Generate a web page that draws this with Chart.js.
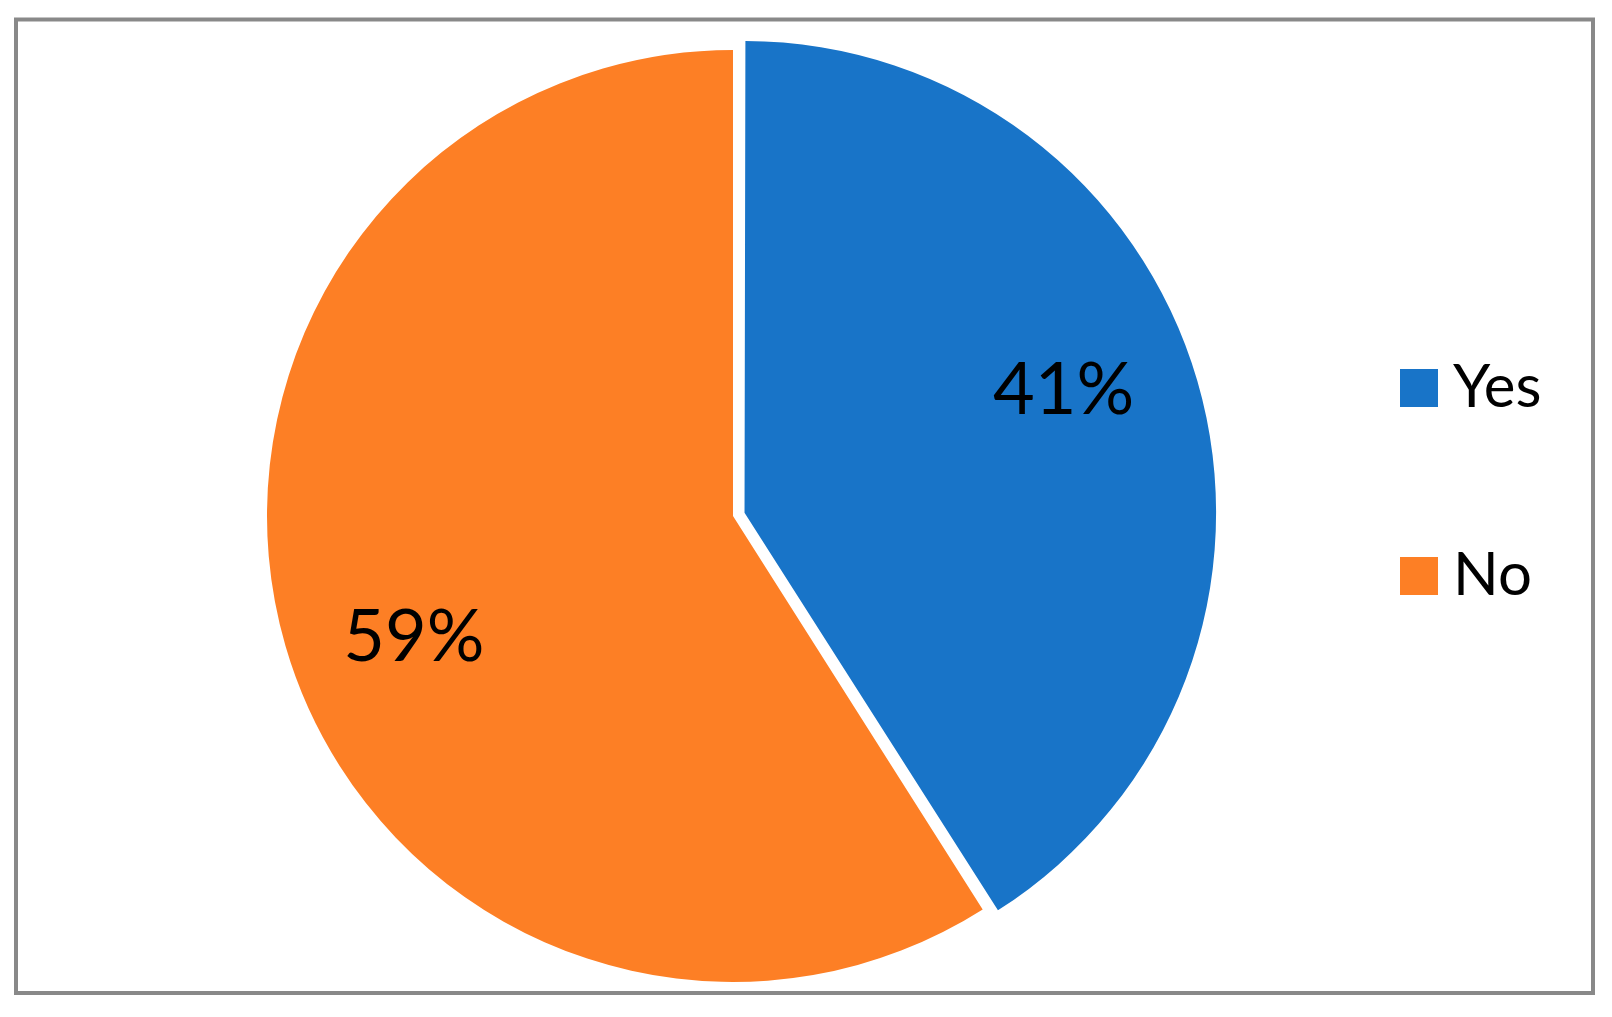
<!DOCTYPE html>
<html>
<head>
<meta charset="utf-8">
<title>Yes / No</title>
<script src="https://cdn.jsdelivr.net/npm/chart.js@4.4.1/dist/chart.umd.min.js"></script>
<style>
  html, body { margin: 0; padding: 0; background: #fff; }
  #wrap { position: relative; width: 1612px; height: 1017px; }
  #legend { position: absolute; left: 1400px; top: 354px; font-family: Lato, sans-serif; font-size: 60px; color: #000; }
  .item { display: flex; align-items: flex-start; height: 60px; line-height: 60px; margin-bottom: 128px; }
  .box { width: 38px; height: 38px; margin-top: 15px; margin-right: 15px; }
</style>
</head>
<body>
<div id="wrap">
  <canvas id="myPie"></canvas>
  <div id="legend"></div>
</div>
<script>
const labels = ['Yes', 'No'];
const values = [41, 59]; // percentages
const colors = ['#1874C8', '#FD7F25'];

// grey frame around the whole chart
const framePlugin = {
    id: 'frame',
    beforeDraw(chart) {
        const c = chart.ctx;
        c.save();
        c.strokeStyle = '#898989';
        c.lineWidth = 4;
        c.strokeRect(16, 19.5, 1577, 973.5);
        c.restore();
    }
};

// percentage labels inside the slices
const pctPlugin = {
    id: 'pctLabels',
    afterDatasetsDraw(chart) {
        const c = chart.ctx;
        const meta = chart.getDatasetMeta(0);
        c.save();
        c.font = '72px Lato';
        c.fillStyle = '#000';
        c.textAlign = 'center';
        c.textBaseline = 'middle';
        meta.data.forEach((arc, i) => {
            const p = arc.getProps(['x', 'y', 'startAngle', 'endAngle', 'outerRadius'], true);
            const realMid = (p.startAngle + p.endAngle) / 2;
            const off = (arc.options.offset || 0) / 4; // chart.js moves the arc by offset/4
            const cx = p.x + Math.cos(realMid) * off;
            const cy = p.y + Math.sin(realMid) * off;
            const mid = realMid - 0.082;
            const r = p.outerRadius * 0.733;
            c.fillText(values[i] + '%', cx + Math.cos(mid) * r, cy + Math.sin(mid) * r);
        });
        c.restore();
    }
};

const ctx = document.getElementById('myPie');

new Chart(ctx, {
    type: 'pie',
    data: {
        labels: labels,
        datasets: [{
            data: values,
            backgroundColor: colors,
            borderWidth: 0,
            offset: [48, 0], // "Yes" slice pulled out a little
            hoverOffset: 0,
            radius: 466
        }]
    },
    options: {
        responsive: true,
        maintainAspectRatio: false,
        animation: false,
        layout: {
            padding: { left: 0, right: 146, top: 15, bottom: 0 }
        },
        plugins: {
            legend: { display: false },
            tooltip: { enabled: false }
        }
    },
    plugins: [framePlugin, pctPlugin]
});

// legend on the right
const legendEl = document.getElementById('legend');
labels.forEach((lab, i) => {
    const item = document.createElement('div');
    item.className = 'item';
    const box = document.createElement('span');
    box.className = 'box';
    box.style.background = colors[i];
    const txt = document.createElement('span');
    txt.textContent = lab;
    item.appendChild(box);
    item.appendChild(txt);
    legendEl.appendChild(item);
});
</script>
</body>
</html>
